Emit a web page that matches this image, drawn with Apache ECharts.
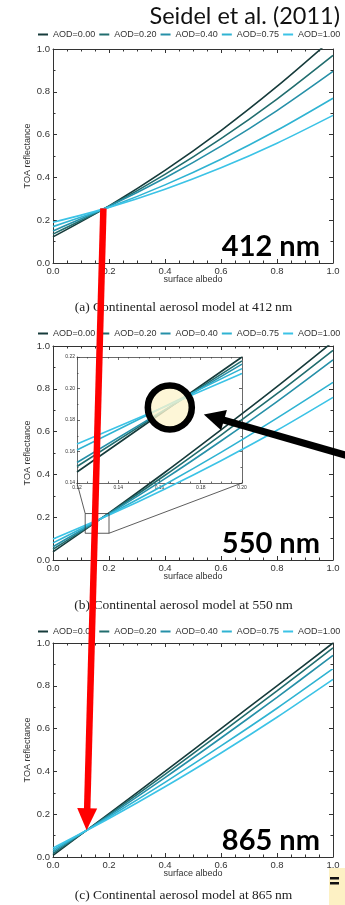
<!DOCTYPE html>
<html lang="en">
<head>
<meta charset="UTF-8">
<title>TOA reflectance vs surface albedo</title>
<script src="https://cdn.jsdelivr.net/npm/echarts@6/dist/echarts.min.js"></script>
<style>
  html, body { margin: 0; padding: 0; background: #fff; }
  #main { width: 345px; height: 905px; }
</style>
</head>
<body>
<div id="main"></div>
<script>
// legend names, one per aerosol optical depth
var aodNames = ['AOD=0.00', 'AOD=0.20', 'AOD=0.40', 'AOD=0.75', 'AOD=1.00'];
var aodColors = ['#163b3b', '#216d6e', '#2690a8', '#2fb3d2', '#3cc3e6'];

// surface albedo sample points
var albedo = [0, 0.2, 0.4, 0.6, 0.8, 1.0];

// TOA reflectance per AOD (rows) at each albedo (columns)
var toa412 = [
  [0.122, 0.267, 0.433, 0.619, 0.825, 1.050],
  [0.135, 0.265, 0.414, 0.581, 0.766, 0.970],
  [0.150, 0.265, 0.397, 0.546, 0.712, 0.895],
  [0.170, 0.260, 0.365, 0.485, 0.620, 0.770],
  [0.190, 0.260, 0.345, 0.445, 0.560, 0.690]
];
var toa550 = [
  [0.038, 0.220, 0.410, 0.608, 0.810, 1.020],
  [0.050, 0.218, 0.396, 0.584, 0.777, 0.980],
  [0.062, 0.216, 0.380, 0.556, 0.740, 0.935],
  [0.080, 0.213, 0.353, 0.503, 0.663, 0.830],
  [0.098, 0.210, 0.332, 0.464, 0.606, 0.760]
];
var toa865 = [
  [0.008, 0.203, 0.400, 0.600, 0.800, 1.000],
  [0.016, 0.198, 0.386, 0.580, 0.776, 0.977],
  [0.024, 0.193, 0.371, 0.556, 0.746, 0.942],
  [0.033, 0.187, 0.349, 0.519, 0.695, 0.880],
  [0.042, 0.180, 0.328, 0.486, 0.653, 0.830]
];

// zoomed inset of the 550 nm panel
var insetAlbedo = [0.12, 0.16, 0.20];
var insetToa550 = [
  [0.1470, 0.1835, 0.2200],
  [0.1505, 0.1840, 0.2175],
  [0.1530, 0.1845, 0.2155],
  [0.1610, 0.1870, 0.2126],
  [0.1648, 0.1870, 0.2095]
];
var zoomBoxX = [0.115, 0.20];
var zoomBoxY = [0.125, 0.217];

// crossing points used by the annotations
var cross412 = [0.18, 0.255];
var cross865 = [0.12, 0.125];
var crossInset = [0.165, 0.188];

var bandLabels = ['412 nm', '550 nm', '865 nm'];
var captions = [
  '(a) Continental aerosol model at 412\u2009nm',
  '(b) Continental aerosol model at 550\u2009nm',
  '(c) Continental aerosol model at 865\u2009nm'
];

var myChart = echarts.init(document.getElementById('main'));

var panelTops = [49, 346, 643];
var legendTops = [30, 329, 627];
var tables = [toa412, toa550, toa865];
var axisColor = '#333';

function mainX(gi, pos) {
  var bottom = pos === 'bottom';
  return {
    type: 'value', gridIndex: gi, position: pos, min: 0, max: 1, interval: 0.2,
    axisLine: { onZero: false, lineStyle: { color: axisColor, width: 1 } },
    axisTick: { inside: true, length: 4, lineStyle: { color: axisColor } },
    minorTick: { show: true, splitNumber: 4, length: 2.5, lineStyle: { color: axisColor } },
    splitLine: { show: false },
    axisLabel: bottom ? { margin: 3, fontSize: 9.5, color: '#333', fontFamily: 'Liberation Sans',
      formatter: function (v) { return v.toFixed(1); } } : { show: false },
    name: bottom ? 'surface albedo' : '',
    nameLocation: 'middle', nameGap: 12, nameMoveOverlap: false,
    nameTextStyle: { fontSize: 9, color: '#333', fontFamily: 'Liberation Sans' }
  };
}
function mainY(gi, pos) {
  var left = pos === 'left';
  return {
    type: 'value', gridIndex: gi, position: pos, min: 0, max: 1, interval: 0.2,
    axisLine: { onZero: false, lineStyle: { color: axisColor, width: 1 } },
    axisTick: { inside: true, length: 4, lineStyle: { color: axisColor } },
    minorTick: { show: true, splitNumber: 2, length: 2.5, lineStyle: { color: axisColor } },
    splitLine: { show: false },
    axisLabel: left ? { margin: 3, fontSize: 9.5, color: '#333', fontFamily: 'Liberation Sans',
      formatter: function (v) { return v.toFixed(1); } } : { show: false },
    name: left ? 'TOA reflectance' : '',
    nameLocation: 'middle', nameGap: 21, nameMoveOverlap: false,
    nameTextStyle: { fontSize: 9, color: '#333', fontFamily: 'Liberation Sans' }
  };
}
function insetAxis(dim, pos) {
  var lab = pos === 'bottom' || pos === 'left';
  return {
    type: 'value', gridIndex: 3, position: pos, min: dim === 'x' ? 0.12 : 0.14, max: dim === 'x' ? 0.20 : 0.22,
    interval: 0.02,
    axisLine: { onZero: false, lineStyle: { color: '#444', width: 0.8 } },
    axisTick: { inside: true, length: 3, lineStyle: { color: '#444', width: 0.8 } },
    minorTick: { show: true, splitNumber: dim === 'x' ? 4 : 2, length: 1.5, lineStyle: { color: '#444', width: 0.8 } },
    splitLine: { show: false },
    axisLabel: lab ? { margin: 2, fontSize: 5, color: '#333', fontFamily: 'Liberation Sans',
      formatter: function (v) { return v.toFixed(2); } } : { show: false }
  };
}

var grids = [], xAxes = [], yAxes = [], legends = [], series = [];
for (var i = 0; i < 3; i++) {
  grids.push({ left: 53, top: panelTops[i], width: 280, height: 214 });
  xAxes.push(mainX(i, 'bottom'), mainX(i, 'top'));
  yAxes.push(mainY(i, 'left'), mainY(i, 'right'));
  legends.push({
    data: aodNames, left: 38, top: legendTops[i], width: 320, padding: 0, selectedMode: false,
    icon: 'rect', itemWidth: 10, itemHeight: 2, itemGap: 4,
    textStyle: { fontSize: 9, color: '#333', fontFamily: 'Liberation Sans' }
  });
  for (var j = 0; j < 5; j++) {
    series.push({
      type: 'line', name: aodNames[j], xAxisIndex: 2 * i, yAxisIndex: 2 * i,
      data: albedo.map(function (a, k) { return [a, tables[i][j][k]]; }),
      smooth: 0.3, symbol: 'none', clip: true, silent: true,
      lineStyle: { color: aodColors[j], width: 1.6 }, itemStyle: { color: aodColors[j] }
    });
  }
}
// inset grid
grids.push({ left: 77, top: 357, width: 165, height: 126 });
xAxes.push(insetAxis('x', 'bottom'), insetAxis('x', 'top'));
yAxes.push(insetAxis('y', 'left'), insetAxis('y', 'right'));
for (var j = 0; j < 5; j++) {
  series.push({
    type: 'line', name: aodNames[j], xAxisIndex: 6, yAxisIndex: 6,
    data: insetAlbedo.map(function (a, k) { return [a, insetToa550[j][k]]; }),
    symbol: 'none', clip: true, silent: true, z: 4,
    lineStyle: { color: aodColors[j], width: 1.6 }, itemStyle: { color: aodColors[j] }
  });
}
// zoom box in the 550 nm panel
series.push({
  type: 'line', xAxisIndex: 2, yAxisIndex: 2, symbol: 'none', silent: true, z: 5,
  data: [[zoomBoxX[0], zoomBoxY[0]], [zoomBoxX[1], zoomBoxY[0]], [zoomBoxX[1], zoomBoxY[1]],
         [zoomBoxX[0], zoomBoxY[1]], [zoomBoxX[0], zoomBoxY[0]]],
  lineStyle: { color: '#333', width: 0.8 }
});

myChart.setOption({
  animation: false,
  backgroundColor: '#fff',
  grid: grids, xAxis: xAxes, yAxis: yAxes, legend: legends, series: series
});

// annotations, anchored on the axes where they refer to data
function arrow(tail, tip, w, headLen, headHalf, color, z) {
  var dx = tip[0] - tail[0], dy = tip[1] - tail[1];
  var L = Math.sqrt(dx * dx + dy * dy), ux = dx / L, uy = dy / L;
  var bx = tip[0] - ux * headLen, by = tip[1] - uy * headLen;
  var px = -uy, py = ux;
  return [
    { type: 'line', z: z, shape: { x1: tail[0], y1: tail[1], x2: bx + ux * 2, y2: by + uy * 2 },
      style: { stroke: color, lineWidth: w } },
    { type: 'polygon', z: z + 1, shape: { points: [[tip[0], tip[1]],
      [bx + px * headHalf, by + py * headHalf], [bx - px * headHalf, by - py * headHalf]] },
      style: { fill: color } }
  ];
}

var pA = myChart.convertToPixel({ gridIndex: 0 }, cross412);
var pC = myChart.convertToPixel({ gridIndex: 2 }, cross865);
var pI = myChart.convertToPixel({ gridIndex: 3 }, crossInset);
var boxTL = myChart.convertToPixel({ gridIndex: 1 }, [zoomBoxX[0], zoomBoxY[1]]);
var boxBR = myChart.convertToPixel({ gridIndex: 1 }, [zoomBoxX[1], zoomBoxY[0]]);
var insBL = myChart.convertToPixel({ gridIndex: 3 }, [0.12, 0.14]);
var insBR = myChart.convertToPixel({ gridIndex: 3 }, [0.20, 0.14]);

var g = [];
g.push({ type: 'text', z: 50, style: { text: 'Seidel et al. (2011)', x: 340, y: 16,
  align: 'right', verticalAlign: 'middle', font: '23.5px Lato', fill: '#111' } });
for (var i = 0; i < 3; i++) {
  g.push({ type: 'text', z: 50, style: { text: bandLabels[i], x: 320, y: panelTops[i] + 198,
    align: 'right', verticalAlign: 'middle', font: 'bold 29px Lato', fill: '#000' } });
  g.push({ type: 'text', z: 50, style: { text: captions[i], x: 183.5, y: [307, 605, 895][i],
    align: 'center', verticalAlign: 'middle', font: '13.5px "Liberation Serif"', fill: '#222' } });
}
g.push({ type: 'line', z: 20, shape: { x1: boxTL[0], y1: boxTL[1], x2: insBL[0], y2: insBL[1] },
  style: { stroke: '#333', lineWidth: 0.8 } });
g.push({ type: 'line', z: 20, shape: { x1: boxBR[0], y1: boxBR[1], x2: insBR[0], y2: insBR[1] },
  style: { stroke: '#333', lineWidth: 0.8 } });
g.push({ type: 'circle', z: 60, shape: { cx: pI[0], cy: pI[1], r: 22 },
  style: { fill: 'rgba(252,244,205,0.8)', stroke: '#000', lineWidth: 6.5 } });
g = g.concat(arrow([352, 457], [pI[0] + 34, pI[1] + 7], 7, 21, 10.5, '#000', 70));
g = g.concat(arrow([pA[0], pA[1]], [pC[0], pC[1]], 6.5, 22, 10, '#ff0000', 80));
// clipped fragment at the lower right corner
g.push({ type: 'rect', z: 90, shape: { x: 329, y: 868, width: 16, height: 37 }, style: { fill: '#fdf1c4' } });
g.push({ type: 'rect', z: 91, shape: { x: 330, y: 877, width: 9, height: 2.5 }, style: { fill: '#111' } });
g.push({ type: 'rect', z: 91, shape: { x: 330, y: 882, width: 9, height: 2.5 }, style: { fill: '#111' } });

myChart.setOption({ graphic: g });
</script>
</body>
</html>
